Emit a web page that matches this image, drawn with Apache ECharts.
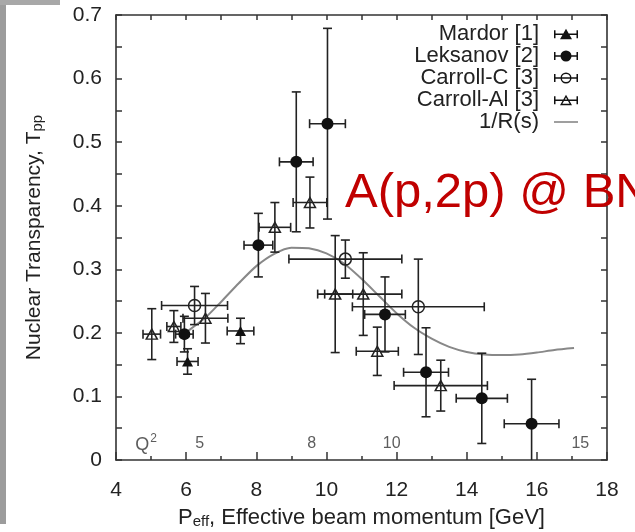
<!DOCTYPE html>
<html><head><meta charset="utf-8">
<script src="https://cdn.jsdelivr.net/npm/echarts@6/dist/echarts.min.js"></script>
<style>html,body{margin:0;padding:0;background:#fff}#c{width:635px;height:532px}</style>
</head><body><div id="c"></div>
<script>
// ---- data ----
// Mardor [1]
const mardorX = [6.04, 7.55];
const mardorY = [0.155, 0.203];
const mardorXErr = [0.30, 0.38];
const mardorYErr = [0.020, 0.020];
// Leksanov [2]
const leksanovX = [5.95, 8.06, 9.14, 10.03, 11.67, 12.84, 14.43, 15.85];
const leksanovY = [0.198, 0.338, 0.469, 0.529, 0.229, 0.138, 0.097, 0.057];
const leksanovXErr = [0.25, 0.41, 0.48, 0.51, 0.58, 0.64, 0.73, 0.78];
const leksanovYErr = [0.028, 0.050, 0.110, 0.150, 0.059, 0.070, 0.071, 0.070];
// Carroll-C [3]
const carrollCX = [6.24, 10.54, 12.62];
const carrollCY = [0.243, 0.316, 0.241];
const carrollCXErr = [0.94, 1.61, 1.88];
const carrollCYErr = [0.030, 0.030, 0.075];
// Carroll-Al [3]
const carrollAlX = [5.02, 5.65, 6.55, 8.53, 9.53, 10.25, 11.05, 11.45, 13.26];
const carrollAlY = [0.198, 0.210, 0.223, 0.366, 0.405, 0.261, 0.261, 0.171, 0.117];
const carrollAlXErr = [0.25, 0.20, 0.64, 0.45, 0.48, 0.50, 1.10, 0.60, 1.33];
const carrollAlYErr = [0.040, 0.025, 0.039, 0.039, 0.040, 0.092, 0.065, 0.038, 0.040];
// 1/R(s) curve
const curveX = [6.03, 6.55, 7.0, 7.5, 8.0, 8.5, 9.0, 9.5, 10.0, 10.5, 11.0, 11.5, 12.0, 12.5, 13.0, 13.5, 14.0, 14.5, 15.0, 15.5, 16.0, 16.5, 17.06];
const curveY = [0.202, 0.224, 0.249, 0.278, 0.305, 0.324, 0.334, 0.333, 0.325, 0.309, 0.285, 0.258, 0.231, 0.208, 0.191, 0.178, 0.170, 0.166, 0.165, 0.166, 0.169, 0.173, 0.176];
// Q^2 scale labels
const q2Labels = ['{q|Q}{p|2}', '5', '8', '10', '15'];
const q2X = [4.86, 6.385, 9.58, 11.86, 17.24];
const q2Y = 0.026;
// legend names
const seriesNames = ['Mardor [1]', 'Leksanov [2]', 'Carroll-C [3]', 'Carroll-Al [3]', '1/R(s)'];

// ---- build ----
const zip = (xs, ys) => xs.map((x, i) => [x, ys[i]]);
const errData = [];
function addErr(xs, ys, xe, ye) { for (let i = 0; i < xs.length; i++) errData.push([xs[i], ys[i], xe[i], ye[i]]); }
addErr(mardorX, mardorY, mardorXErr, mardorYErr);
addErr(leksanovX, leksanovY, leksanovXErr, leksanovYErr);
addErr(carrollCX, carrollCY, carrollCXErr, carrollCYErr);
addErr(carrollAlX, carrollAlY, carrollAlXErr, carrollAlYErr);

const FONT = '"Liberation Sans", Arial, sans-serif';
const INK = '#222';
const BAR = 'M0 5.2H24V6.8H0Z M0 2H1.5V10H0Z M22.5 2H24V10H22.5Z ';
const icons = [
  'path://' + BAR + 'M12 0.5L18 11L6 11Z',
  'path://' + BAR + 'M6.5 6A5.5 5.5 0 1 1 17.5 6A5.5 5.5 0 1 1 6.5 6Z',
  'path://' + BAR + 'M6.5 6A5.5 5.5 0 1 1 17.5 6A5.5 5.5 0 1 1 6.5 6Z M7.9 6A4.1 4.1 0 1 0 16.1 6A4.1 4.1 0 1 0 7.9 6Z',
  'path://' + BAR + 'M12 0.5L18 11L6 11Z M12 3.3L8.4 9.6L15.6 9.6Z',
  'path://M0 5.2H24V6.8H0Z'
];

const chart = echarts.init(document.getElementById('c'), null, {renderer: 'canvas'});
const axisLine = {show: true, onZero: false, lineStyle: {color: '#333', width: 1.6}};
chart.setOption({
  animation: false,
  backgroundColor: '#fff',
  grid: {left: 116, right: 28, top: 15, bottom: 72, containLabel: false, outerBoundsMode: 'none'},
  legend: {
    orient: 'vertical', right: 57, top: 23, align: 'right', padding: 0,
    itemWidth: 24, itemHeight: 12, itemGap: 0, symbolKeepAspect: true,
    selectedMode: false,
    textStyle: {fontFamily: FONT, fontSize: 22, color: INK, lineHeight: 22, padding: [0, 10, 0, 0]},
    data: seriesNames.map((n, i) => ({
      name: n, icon: icons[i],
      itemStyle: {color: i === 4 ? '#888' : '#111', borderWidth: 0, opacity: 1}
    }))
  },
  xAxis: [{
    type: 'value', position: 'bottom', min: 4, max: 18, interval: 2,
    axisLine: axisLine,
    axisTick: {show: true, inside: true, length: 8, lineStyle: {color: '#333', width: 1.5}},
    minorTick: {show: true, splitNumber: 2, length: 4, lineStyle: {color: '#333', width: 1.5}},
    splitLine: {show: false}, minorSplitLine: {show: false},
    axisLabel: {fontFamily: FONT, fontSize: 21, color: INK, margin: 20},
    name: '{a|P}{s|eff}{a|, Effective beam momentum [GeV]}',
    nameLocation: 'middle', nameGap: 47, nameMoveOverlap: false,
    nameTextStyle: {
      rich: {
        a: {fontFamily: FONT, fontSize: 22, color: INK, lineHeight: 22, verticalAlign: 'top'},
        s: {fontFamily: FONT, fontSize: 15, color: INK, lineHeight: 15, padding: [14, 0, 0, 0], verticalAlign: 'bottom'}
      }
    }
  }, {
    type: 'value', position: 'top', min: 4, max: 18, interval: 1,
    axisLine: axisLine,
    axisTick: {show: true, inside: true, length: 5, lineStyle: {color: '#333', width: 1.5}},
    axisLabel: {show: false}, splitLine: {show: false}
  }],
  yAxis: [{
    type: 'value', position: 'left', min: 0, max: 0.7, interval: 0.1,
    axisLine: axisLine,
    axisTick: {show: true, inside: true, length: 6, lineStyle: {color: '#333', width: 1.5}},
    minorTick: {show: true, splitNumber: 2, length: 6, lineStyle: {color: '#333', width: 1.5}},
    splitLine: {show: false}, minorSplitLine: {show: false},
    axisLabel: {fontFamily: FONT, fontSize: 21, color: INK, margin: 14,
      formatter: v => (v === 0 ? '0' : v.toFixed(1))},
    name: '{a|Nuclear Transparency, T}{s|pp}',
    nameLocation: 'middle', nameGap: 71, nameRotate: 90, nameMoveOverlap: false,
    nameTextStyle: {
      rich: {
        a: {fontFamily: FONT, fontSize: 21, color: INK, lineHeight: 21, verticalAlign: 'top'},
        s: {fontFamily: FONT, fontSize: 15, color: INK, lineHeight: 15, padding: [12, 0, 0, 0], verticalAlign: 'bottom'}
      }
    }
  }, {
    type: 'value', position: 'right', min: 0, max: 0.7, interval: 0.1,
    axisLine: axisLine,
    axisTick: {show: true, inside: true, length: 6, lineStyle: {color: '#333', width: 1.5}},
    minorTick: {show: true, splitNumber: 2, length: 6, lineStyle: {color: '#333', width: 1.5}},
    axisLabel: {show: false}, splitLine: {show: false}, minorSplitLine: {show: false}
  }],
  series: [
    {
      type: 'custom', name: 'errorbars', silent: true, clip: true, z: 2,
      encode: {x: 0, y: 1},
      data: errData,
      renderItem: function (params, api) {
        const x = api.value(0), y = api.value(1), xe = api.value(2), ye = api.value(3);
        const l = api.coord([x - xe, y]), r = api.coord([x + xe, y]);
        const t = api.coord([x, y + ye]), b = api.coord([x, y - ye]);
        const c = 4.5;
        const ln = (x1, y1, x2, y2) => ({type: 'line', shape: {x1, y1, x2, y2},
          style: {stroke: '#222', lineWidth: 1.6, fill: null}});
        return {type: 'group', children: [
          ln(l[0], l[1], r[0], r[1]),
          ln(l[0], l[1] - c, l[0], l[1] + c),
          ln(r[0], r[1] - c, r[0], r[1] + c),
          ln(t[0], t[1], b[0], b[1]),
          ln(t[0] - c, t[1], t[0] + c, t[1]),
          ln(b[0] - c, b[1], b[0] + c, b[1])
        ]};
      }
    },
    {type: 'line', name: seriesNames[4], data: zip(curveX, curveY), smooth: 0.25,
      showSymbol: false, symbol: 'none', z: 1,
      lineStyle: {color: '#888', width: 2}, itemStyle: {color: '#888'}},
    {type: 'scatter', name: seriesNames[0], data: zip(mardorX, mardorY), symbol: 'triangle',
      symbolSize: [11, 10], z: 3, itemStyle: {color: '#111', opacity: 1}},
    {type: 'scatter', name: seriesNames[1], data: zip(leksanovX, leksanovY), symbol: 'circle',
      symbolSize: 12, z: 3, itemStyle: {color: '#111', opacity: 1}},
    {type: 'scatter', name: seriesNames[2], data: zip(carrollCX, carrollCY), symbol: 'circle',
      symbolSize: 12, z: 3, itemStyle: {color: 'rgba(0,0,0,0)', borderColor: '#222', borderWidth: 1.5, opacity: 1}},
    {type: 'scatter', name: seriesNames[3], data: zip(carrollAlX, carrollAlY), symbol: 'triangle',
      symbolSize: [11, 10], z: 3, itemStyle: {color: 'rgba(0,0,0,0)', borderColor: '#222', borderWidth: 1.5, opacity: 1}},
    {type: 'scatter', name: 'Q2 scale', silent: true, z: 3,
      data: q2X.map((x, i) => [x, q2Y, q2Labels[i]]),
      symbolSize: 1, itemStyle: {color: 'rgba(0,0,0,0)'},
      label: {show: true, position: 'inside', formatter: p => p.data[2],
        fontFamily: FONT, fontSize: 16, color: '#333',
        rich: {
          q: {fontFamily: FONT, fontSize: 18, color: '#333', lineHeight: 22, verticalAlign: 'bottom'},
          p: {fontFamily: FONT, fontSize: 12, color: '#333', lineHeight: 12, padding: [0, 0, 8, 1], verticalAlign: 'top'}
        }}}
  ],
  graphic: [
    {type: 'rect', left: 0, top: 0, shape: {width: 6, height: 524}, style: {fill: '#9c9c9c'}, silent: true},
    {type: 'rect', left: 0, top: 0, shape: {width: 60, height: 5}, style: {fill: '#a8a8a8'}, silent: true},
    {type: 'text', left: 345, top: 169, z: 100, silent: true,
      style: {text: 'A(p,2p) @ BN', fontFamily: FONT, fontSize: 49, fill: '#c00000'}}
  ]
});
</script>
</body></html>
